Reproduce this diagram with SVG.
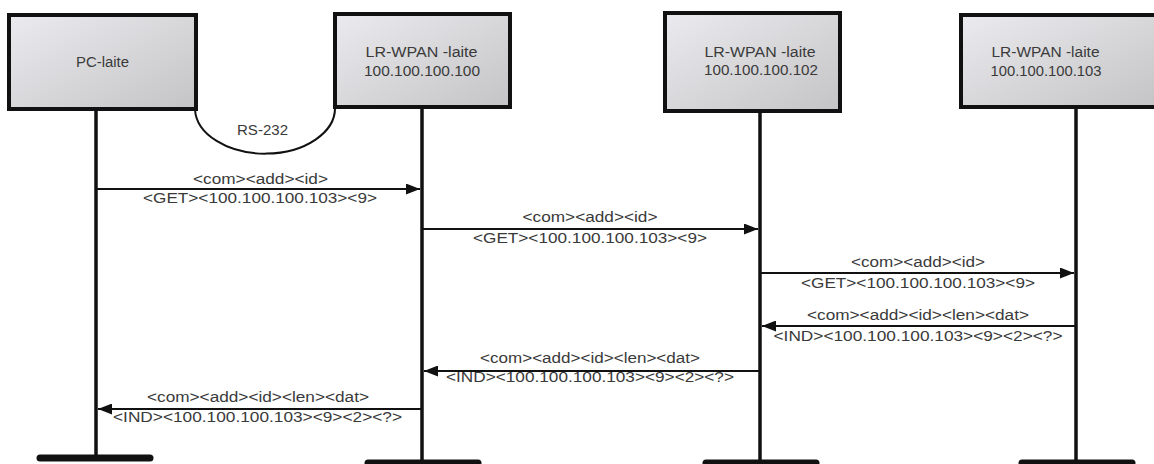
<svg xmlns="http://www.w3.org/2000/svg" width="1154" height="464" viewBox="0 0 1154 464">
<style>
.box{fill:url(#g);stroke:#111;stroke-width:4}
.life{stroke:#111;stroke-width:3.5}
.bar{stroke:#111;stroke-width:7;stroke-linecap:round}
.msg{stroke:#111;stroke-width:2;fill:none}
text{font-family:"Liberation Sans",Arial,sans-serif;font-size:14px;fill:#3a3a3a;text-anchor:middle}
</style>
<defs>
<linearGradient id="g" x1="0" y1="0" x2="1" y2="1">
<stop offset="0" stop-color="#ebebef"/>
<stop offset="1" stop-color="#c4c4c6"/>
</linearGradient>
<marker id="ah" markerWidth="14" markerHeight="11" refX="14" refY="5.5" orient="auto" markerUnits="userSpaceOnUse">
<path d="M0,0 L14,5.5 L0,11 Z" fill="#111"/>
</marker>
</defs>
<rect width="1154" height="464" fill="#fff"/>
<g id="lifelines">
<line class="life" x1="96" y1="108" x2="96" y2="458"/>
<line class="life" x1="422" y1="107" x2="422" y2="462"/>
<line class="life" x1="760" y1="112" x2="760" y2="462"/>
<line class="life" x1="1076" y1="107" x2="1076" y2="462"/>
<line class="bar" x1="40" y1="458" x2="150" y2="458"/>
<line class="bar" x1="368" y1="463" x2="478" y2="463"/>
<line class="bar" x1="706" y1="463" x2="816" y2="463"/>
<line class="bar" x1="1022" y1="463" x2="1132" y2="463"/>
</g>
<g id="pc">
<rect class="box" x="9" y="15" width="187" height="94"/>
<text x="102.5" y="67" textLength="53" lengthAdjust="spacingAndGlyphs">PC-laite</text>
</g>
<g id="n100">
<rect class="box" x="335" y="14" width="175" height="93"/>
<text x="421.5" y="57" textLength="112" lengthAdjust="spacingAndGlyphs">LR-WPAN -laite</text>
<text x="422" y="76" textLength="116" lengthAdjust="spacingAndGlyphs">100.100.100.100</text>
</g>
<g id="n102">
<rect class="box" x="665" y="13" width="175" height="98"/>
<text x="760" y="57" textLength="111" lengthAdjust="spacingAndGlyphs">LR-WPAN -laite</text>
<text x="761" y="75" textLength="114" lengthAdjust="spacingAndGlyphs">100.100.100.102</text>
</g>
<g id="n103">
<rect class="box" x="961" y="15" width="195" height="92"/>
<text x="1045.5" y="57" textLength="108" lengthAdjust="spacingAndGlyphs">LR-WPAN -laite</text>
<text x="1046" y="76" textLength="111" lengthAdjust="spacingAndGlyphs">100.100.100.103</text>
</g>
<g id="rs232">
<path class="msg" d="M195,109 A69,45 0 0 0 335,107" stroke-width="3.5"/>
<text x="262.5" y="135" textLength="51" lengthAdjust="spacingAndGlyphs">RS-232</text>
</g>
<g id="connectors">
<line class="msg" x1="97" y1="189" x2="420" y2="189" marker-end="url(#ah)"/>
<text x="260.5" y="184" textLength="135" lengthAdjust="spacingAndGlyphs">&lt;com&gt;&lt;add&gt;&lt;id&gt;</text>
<text x="260" y="203" textLength="234" lengthAdjust="spacingAndGlyphs">&lt;GET&gt;&lt;100.100.100.103&gt;&lt;9&gt;</text>
<line class="msg" x1="423" y1="229" x2="758" y2="229" marker-end="url(#ah)"/>
<text x="590" y="222" textLength="135" lengthAdjust="spacingAndGlyphs">&lt;com&gt;&lt;add&gt;&lt;id&gt;</text>
<text x="590" y="243" textLength="234" lengthAdjust="spacingAndGlyphs">&lt;GET&gt;&lt;100.100.100.103&gt;&lt;9&gt;</text>
<line class="msg" x1="761" y1="273" x2="1074" y2="273" marker-end="url(#ah)"/>
<text x="918" y="267" textLength="134" lengthAdjust="spacingAndGlyphs">&lt;com&gt;&lt;add&gt;&lt;id&gt;</text>
<text x="918" y="288" textLength="234" lengthAdjust="spacingAndGlyphs">&lt;GET&gt;&lt;100.100.100.103&gt;&lt;9&gt;</text>
<line class="msg" x1="1075" y1="326" x2="762" y2="326" marker-end="url(#ah)"/>
<text x="918" y="320" textLength="222" lengthAdjust="spacingAndGlyphs">&lt;com&gt;&lt;add&gt;&lt;id&gt;&lt;len&gt;&lt;dat&gt;</text>
<text x="918" y="341" textLength="289" lengthAdjust="spacingAndGlyphs">&lt;IND&gt;&lt;100.100.100.103&gt;&lt;9&gt;&lt;2&gt;&lt;?&gt;</text>
<line class="msg" x1="759" y1="371" x2="424" y2="371" marker-end="url(#ah)"/>
<text x="590" y="363" textLength="220" lengthAdjust="spacingAndGlyphs">&lt;com&gt;&lt;add&gt;&lt;id&gt;&lt;len&gt;&lt;dat&gt;</text>
<text x="590" y="382" textLength="288" lengthAdjust="spacingAndGlyphs">&lt;IND&gt;&lt;100.100.100.103&gt;&lt;9&gt;&lt;2&gt;&lt;?&gt;</text>
<line class="msg" x1="421" y1="409" x2="98" y2="409" marker-end="url(#ah)"/>
<text x="258" y="402" textLength="222" lengthAdjust="spacingAndGlyphs">&lt;com&gt;&lt;add&gt;&lt;id&gt;&lt;len&gt;&lt;dat&gt;</text>
<text x="257.5" y="422" textLength="289" lengthAdjust="spacingAndGlyphs">&lt;IND&gt;&lt;100.100.100.103&gt;&lt;9&gt;&lt;2&gt;&lt;?&gt;</text>
</g>
</svg>
